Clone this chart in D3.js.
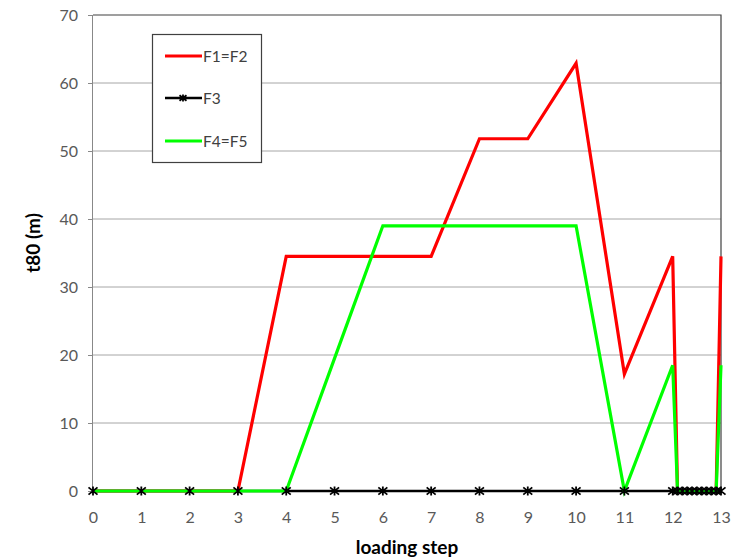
<!DOCTYPE html>
<html><head><meta charset="utf-8">
<script src="https://cdn.jsdelivr.net/npm/d3@7"></script>
<style>body{margin:0;background:#fff}svg{display:block}</style>
</head><body>
<script>
const steps = [0,1,2,3,4,5,6,7,8,9,10,11,12,12.1,12.2,12.3,12.4,12.5,12.6,12.7,12.8,12.9,13];
const f1f2 = [0,0,0,0,34.5,34.5,34.5,34.5,51.8,51.8,62.9,17.2,34.5,0,0,0,0,0,0,0,0,0,34.5];
const f3   = [0,0,0,0,0,0,0,0,0,0,0,0,0,0,0,0,0,0,0,0,0,0,0];
const f4f5 = [0,0,0,0,0,19.5,39,39,39,39,39,0,18.5,0,0,0,0,0,0,0,0,0,18.5];
const xTicks = [0,1,2,3,4,5,6,7,8,9,10,11,12,13];
const yTicks = [0,10,20,30,40,50,60,70];
const seriesNames = ["F1=F2","F3","F4=F5"];
const seriesColors = ["#ff0000","#000000","#00ff00"];

const W=735,H=560;
const svg=d3.select("body").append("svg").attr("width",W).attr("height",H);
const font="Lato, 'Open Sans', sans-serif";
const x=d3.scaleLinear().domain([0,13]).range([93,721]);
const y=d3.scaleLinear().domain([0,70]).range([491,15]);

// gridlines
svg.append("g").selectAll("line").data(yTicks.filter(d=>d>0&&d<70)).join("line")
  .attr("x1",93).attr("x2",721).attr("y1",d=>y(d)).attr("y2",d=>y(d))
  .attr("stroke","#a6a6a6").attr("stroke-width",1);
// plot border top/right
svg.append("path").attr("d",`M93,${y(70)}H721V${y(0)}`).attr("fill","none").attr("stroke","#404040").attr("stroke-width",1.2);

// y axis
const ya=svg.append("g").attr("transform","translate(93,0)")
  .call(d3.axisLeft(y).tickValues(yTicks).tickSize(5).tickPadding(10));
ya.select(".domain").attr("stroke","#888").attr("d",`M-0.5,${y(70)}V${y(0)}`);
ya.selectAll(".tick line").attr("stroke","#888");
ya.selectAll("text").attr("font-family",font).attr("font-size",16).attr("fill","#595959");

// x axis labels
const xa=svg.append("g").attr("transform",`translate(0,${y(0)})`)
  .call(d3.axisBottom(x).tickValues(xTicks).tickSize(0).tickPadding(21));
xa.select(".domain").remove();
xa.selectAll("text").attr("font-family",font).attr("font-size",16).attr("fill","#595959");

// titles
svg.append("text").attr("x",407).attr("y",554).attr("text-anchor","middle")
  .attr("font-family",font).attr("font-weight","bold").attr("font-size",19).attr("fill","#000").text("loading step");
svg.append("text").attr("transform","translate(40,243) rotate(-90)").attr("text-anchor","middle")
  .attr("font-family",font).attr("font-weight","bold").attr("font-size",19).attr("fill","#000").text("t80 (m)");

const line=d3.line().x((d,i)=>x(steps[i])).y(d=>y(d));
const data=[f1f2,f3,f4f5];
const widths=[3.2,2.5,3.2];
[0,1,2].forEach(k=>{
  svg.append("path").datum(data[k]).attr("d",line).attr("fill","none")
    .attr("stroke",seriesColors[k]).attr("stroke-width",widths[k]).attr("stroke-linejoin","miter");
});
// star markers for F3
function star(g,cx,cy,s){
  const p=`M${cx-s},${cy-s*0.8}L${cx+s},${cy+s*0.8}M${cx-s},${cy+s*0.8}L${cx+s},${cy-s*0.8}M${cx},${cy-s}L${cx},${cy+s}`;
  g.append("path").attr("d",p).attr("stroke","#000").attr("stroke-width",1.8).attr("fill","none");
}
const mg=svg.append("g");
f3.forEach((v,i)=>star(mg,x(steps[i]),y(v),4.5));

// legend
const lg=svg.append("g");
lg.append("rect").attr("x",152.5).attr("y",34.5).attr("width",109).attr("height",128)
  .attr("fill","#fff").attr("stroke","#404040").attr("stroke-width",1.2);
const ly=[56,98,141];
seriesNames.forEach((n,k)=>{
  lg.append("line").attr("x1",165).attr("x2",202).attr("y1",ly[k]).attr("y2",ly[k])
    .attr("stroke",seriesColors[k]).attr("stroke-width",widths[k]);
  if(k===1) star(lg,183,ly[k],3.5);
  lg.append("text").attr("x",203).attr("y",ly[k]+5.5).attr("font-family",font).attr("font-size",15.5)
    .attr("fill","#404040").text(n);
});
</script>
</body></html>
